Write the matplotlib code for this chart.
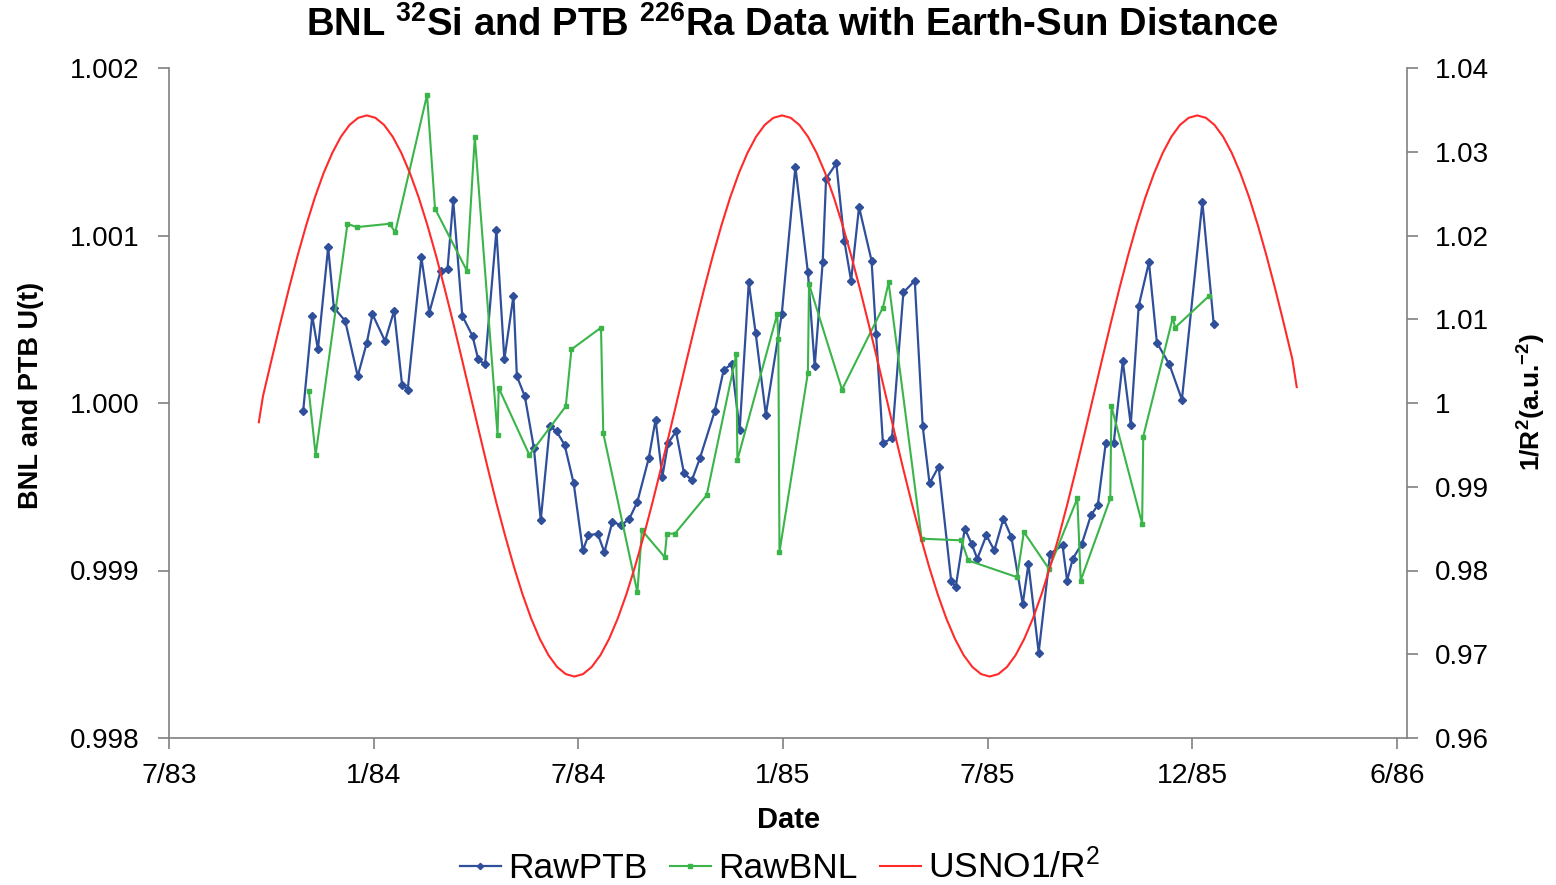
import matplotlib
matplotlib.use('Agg')
import matplotlib.pyplot as plt

plt.rcParams['font.family'] = ['Liberation Sans', 'DejaVu Sans']
plt.rcParams['mathtext.default'] = 'regular'

# x axis: days counted from the 7/83 origin, one labelled tick every 180 days
tick_days = [0, 180, 360, 540, 720, 900, 1080]
tick_labels = ['7/83', '1/84', '7/84', '1/85', '7/85', '12/85', '6/86']

u_ticks = [0.998, 0.999, 1.000, 1.001, 1.002]
r2_ticks = [0.96, 0.97, 0.98, 0.99, 1.00, 1.01, 1.02, 1.03, 1.04]
r2_labels = ['0.96', '0.97', '0.98', '0.99', '1', '1.01', '1.02', '1.03', '1.04']

# PTB 226Ra
ptb_day = [118, 126, 131, 140, 145, 155, 166, 174, 179, 190,
           198, 205, 210, 222, 229, 239, 245, 250, 258, 267,
           272, 278, 288, 295, 303, 306, 313, 321, 327, 335,
           341, 348, 356, 364, 369, 377, 383, 390, 398, 405,
           412, 422, 428, 434, 439, 446, 453, 460, 467, 480,
           488, 495, 502, 510, 516, 525, 539, 551, 562, 568,
           575, 578, 587, 594, 600, 607, 618, 622, 628, 636,
           646, 656, 663, 669, 677, 688, 692, 700, 706, 711,
           719, 726, 734, 741, 751, 756, 765, 775, 786, 790,
           795, 803, 811, 817, 824, 831, 839, 846, 853, 862,
           869, 880, 891, 909, 919]
ptb_u = [0.99995, 1.00052, 1.00032, 1.00093, 1.00057, 1.00049, 1.00016, 1.00036, 1.00053, 1.00037,
         1.00055, 1.00011, 1.00008, 1.00087, 1.00054, 1.00079, 1.00080, 1.00121, 1.00052, 1.00040,
         1.00026, 1.00023, 1.00103, 1.00026, 1.00064, 1.00016, 1.00004, 0.99973, 0.99930, 0.99986,
         0.99983, 0.99975, 0.99952, 0.99912, 0.99921, 0.99922, 0.99911, 0.99929, 0.99927, 0.99931,
         0.99941, 0.99967, 0.99990, 0.99956, 0.99976, 0.99983, 0.99958, 0.99954, 0.99967, 0.99995,
         1.00020, 1.00023, 0.99984, 1.00072, 1.00042, 0.99993, 1.00053, 1.00141, 1.00078, 1.00022,
         1.00084, 1.00134, 1.00143, 1.00097, 1.00073, 1.00117, 1.00085, 1.00041, 0.99976, 0.99979,
         1.00066, 1.00073, 0.99986, 0.99952, 0.99962, 0.99894, 0.99890, 0.99925, 0.99916, 0.99907,
         0.99921, 0.99912, 0.99931, 0.99920, 0.99880, 0.99904, 0.99851, 0.99910, 0.99915, 0.99894,
         0.99907, 0.99916, 0.99933, 0.99939, 0.99976, 0.99976, 1.00025, 0.99987, 1.00058, 1.00084,
         1.00036, 1.00023, 1.00002, 1.00120, 1.00047]

# BNL 32Si
bnl_day = [123, 129, 157, 165, 194, 199, 227, 234, 262, 269,
           289, 290, 317, 349, 354, 380, 382, 412, 416, 436,
           438, 445, 473, 499, 500, 535, 536, 537, 562, 563,
           592, 628, 633, 662, 697, 703, 746, 752, 774, 799,
           802, 828, 829, 856, 857, 883, 885, 915]
bnl_u = [1.00007, 0.99969, 1.00107, 1.00105, 1.00107, 1.00102, 1.00184, 1.00116, 1.00079, 1.00159,
         0.99981, 1.00009, 0.99969, 0.99998, 1.00032, 1.00045, 0.99982, 0.99887, 0.99924, 0.99908,
         0.99922, 0.99922, 0.99945, 1.00029, 0.99966, 1.00053, 1.00038, 0.99911, 1.00018, 1.00071,
         1.00008, 1.00057, 1.00072, 0.99919, 0.99918, 0.99906, 0.99896, 0.99923, 0.99901, 0.99943,
         0.99894, 0.99943, 0.99998, 0.99928, 0.99980, 1.00051, 1.00045, 1.00064]

# USNO 1/R^2, sampled about every 7.6 days
usno_day = [79.0, 82.7, 90.3, 97.9, 105.5, 113.1, 120.7, 128.3, 135.9, 143.6, 151.2, 158.8, 166.4,
            174.0, 181.6, 189.2, 196.8, 204.4, 212.0, 219.7, 227.3, 234.9, 242.5, 250.1, 257.7,
            265.3, 272.9, 280.5, 288.1, 295.8, 303.4, 311.0, 318.6, 326.2, 333.8, 341.4, 349.0,
            356.6, 364.2, 371.8, 379.5, 387.1, 394.7, 402.3, 409.9, 417.5, 425.1, 432.7, 440.3,
            447.9, 455.5, 463.2, 470.8, 478.4, 486.0, 493.6, 501.2, 508.8, 516.4, 524.0, 531.6,
            539.3, 546.9, 554.5, 562.1, 569.7, 577.3, 584.9, 592.5, 600.1, 607.7, 615.3, 623.0,
            630.6, 638.2, 645.8, 653.4, 661.0, 668.6, 676.2, 683.8, 691.4, 699.0, 706.7, 714.3,
            721.9, 729.5, 737.1, 744.7, 752.3, 759.9, 767.5, 775.1, 782.8, 790.4, 798.0, 805.6,
            813.2, 820.8, 828.4, 836.0, 843.6, 851.2, 858.8, 866.5, 874.1, 881.7, 889.3, 896.9,
            904.5, 912.1, 919.7, 927.3, 934.9, 942.5, 950.2, 957.8, 965.4, 973.0, 980.6, 988.2,
            992.0]
usno_r2 = [0.99770, 1.00084, 1.00521, 1.00951, 1.01366, 1.01759, 1.02123, 1.02453, 1.02742, 1.02985,
           1.03179, 1.03320, 1.03405,
           1.03434, 1.03405, 1.03320, 1.03179, 1.02985, 1.02742, 1.02453, 1.02123, 1.01759, 1.01366,
           1.00951, 1.00521, 1.00084, 0.99647, 0.99217, 0.98802, 0.98409, 0.98045, 0.97715, 0.97426,
           0.97183, 0.96989, 0.96848, 0.96763, 0.96734, 0.96763, 0.96848, 0.96989, 0.97183, 0.97426,
           0.97715, 0.98045, 0.98409, 0.98802, 0.99217, 0.99647, 1.00084, 1.00521, 1.00951, 1.01366,
           1.01759, 1.02123, 1.02453, 1.02742, 1.02985, 1.03179, 1.03320, 1.03405,
           1.03434, 1.03405, 1.03320, 1.03179, 1.02985, 1.02742, 1.02453, 1.02123, 1.01759, 1.01366,
           1.00951, 1.00521, 1.00084, 0.99647, 0.99217, 0.98802, 0.98409, 0.98045, 0.97715, 0.97426,
           0.97183, 0.96989, 0.96848, 0.96763, 0.96734, 0.96763, 0.96848, 0.96989, 0.97183, 0.97426,
           0.97715, 0.98045, 0.98409, 0.98802, 0.99217, 0.99647, 1.00084, 1.00521, 1.00951, 1.01366,
           1.01759, 1.02123, 1.02453, 1.02742, 1.02985, 1.03179, 1.03320, 1.03405,
           1.03434, 1.03405, 1.03320, 1.03179, 1.02985, 1.02742, 1.02453, 1.02123, 1.01759, 1.01366,
           1.00951, 1.00521, 1.00190]

axis_grey = '#808080'
narrow = ['Liberation Sans Narrow', 'Liberation Sans', 'DejaVu Sans']

fig = plt.figure(figsize=(15.56, 8.85), dpi=100)
ax = fig.add_axes([169 / 1556, 147 / 885, 1238 / 1556, 670 / 885])

ax.plot(ptb_day, ptb_u, color='#2f4f9b', lw=1.6, marker='D', ms=4, label='RawPTB')
ax.plot(bnl_day, bnl_u, color='#3bb54a', lw=1.5, marker='s', ms=3.5, label='RawBNL')

ax2 = ax.twinx()
ax2.plot(usno_day, usno_r2, color='#ff2a2a', lw=1.5, label='USNO1/R$^2$')

ax.set_xlim(0, 1089)
ax.set_ylim(0.998, 1.002)
ax2.set_ylim(0.96, 1.04)

ax.set_xticks(tick_days)
ax.set_xticklabels(tick_labels)
ax.set_yticks(u_ticks)
ax.set_yticklabels(['%.3f' % v for v in u_ticks])
ax2.set_yticks(r2_ticks)
ax2.set_yticklabels(r2_labels)

for a in (ax, ax2):
    for s in a.spines.values():
        s.set_color(axis_grey)
        s.set_linewidth(1.2)
    a.spines['top'].set_visible(False)
ax.spines['right'].set_visible(False)
ax2.spines['left'].set_visible(False)
ax2.spines['bottom'].set_visible(False)

ax.tick_params(axis='x', direction='out', length=8, width=1.2, color=axis_grey, labelsize=20.5, pad=10)
ax.tick_params(axis='y', direction='out', length=8, width=1.2, color=axis_grey, labelsize=20, pad=13)
ax2.tick_params(axis='y', direction='out', length=8, width=1.2, color=axis_grey, labelsize=20, pad=12)

ax.set_xlabel('Date', fontsize=21, fontweight='bold', va='center')
ax.xaxis.set_label_coords(0.5008, -0.1224)
ax.set_ylabel('BNL and PTB U(t)', fontsize=19.5, fontweight='bold', family=narrow, va='center')
ax.yaxis.set_label_coords(-0.1115, 0.512)
ax2.set_ylabel('1/R$^2$(a.u.$^{-2}$)', fontsize=19, fontweight='bold', family=narrow,
               rotation=90, va='center')
ax2.yaxis.set_label_coords(1.101, 0.5015)

fig.text(792 / 1556, 1 - 25 / 885, 'BNL $^{32}$Si and PTB $^{226}$Ra Data with Earth-Sun Distance',
         ha='center', va='center', fontsize=27.5, fontweight='bold')

h1, l1 = ax.get_legend_handles_labels()
h2, l2 = ax2.get_legend_handles_labels()
fig.legend(h1 + h2, l1 + l2, loc='center', bbox_to_anchor=(780 / 1556, 1 - 867 / 885), ncol=3,
           frameon=False, fontsize=25.5, handlelength=1.15, handletextpad=0.2, columnspacing=0.65,
           markerscale=0.8)

fig.savefig('out.png', dpi=100)
